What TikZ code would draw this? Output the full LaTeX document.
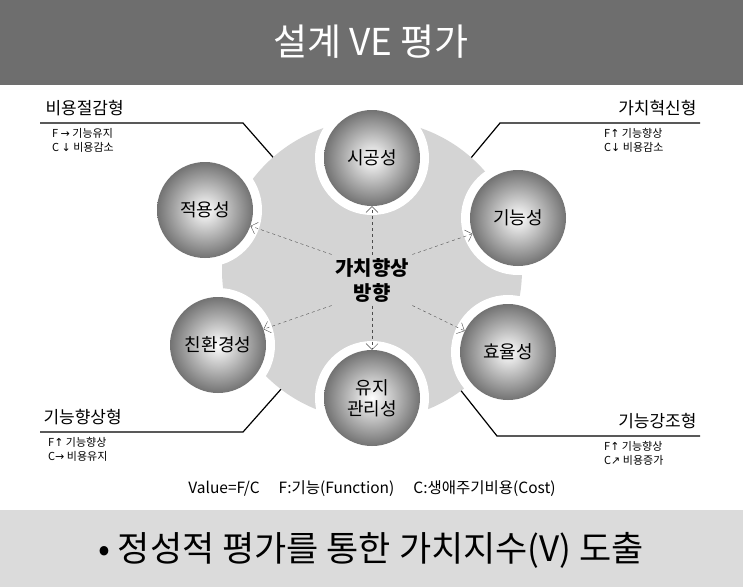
\documentclass[tikz,border=0pt]{standalone}
\usepackage{fontspec}
\setmainfont{Noto Sans CJK KR}
\newfontfamily\symfont{DejaVu Sans}
\usetikzlibrary{arrows.meta}

\tikzset{
  sphere/.style = {circle, minimum size=96pt, inner sep=0pt, inner color=white, outer color=black!55, font=\fontsize{18}{21}\selectfont},
  cutout/.style = {fill=white, draw=none},
  ray/.style = {dashed, black!70, -{Straight Barb[length=6pt]}},
  corner/.style = {black, line width=1.2pt},
  kind/.style = {font=\fontsize{17}{19}\selectfont},
  sub/.style = {font=\fontsize{11}{14}\selectfont, align=left, inner sep=0pt}
}

\begin{document}
\begin{tikzpicture}[x=1pt, y=-1pt]
\useasboundingbox (0,0) rectangle (743,587);
% title and bottom bars
\fill[black!57] (0,0) rectangle (743,85);
\node[white, font=\fontsize{37}{40}\selectfont] (title) at (371,42) {설계 VE 평가};
\fill[black!14] (0,510) rectangle (743,587);
\node[font=\fontsize{35}{40}\selectfont] (summary) at (371,550) {• 정성적 평가를 통한 가치지수(V) 도출};

% corner lines
\draw[corner] (40,123) -- (243,123) -- (300,188);
\draw[corner] (700,123) -- (500,123) -- (446,188);
\draw[corner] (40,432) -- (243,432) -- (298,370);
\draw[corner] (700,436) -- (497,436) -- (447,373);

% gear
\fill[black!17] (372,270) circle (150);
\foreach \p in {(372,158),(518,218),(508,352),(372,398),(218,345),(205,210)}
  \fill[cutout] \p circle (57);

% spheres
\node[sphere] (build) at (372,158) {시공성};
\node[sphere] (func) at (518,218) {기능성};
\node[sphere] (effi) at (508,352) {효율성};
\node[sphere, align=center] (maint) at (372,398) {유지\\관리성};
\node[sphere] (green) at (218,345) {친환경성};
\node[sphere] (apply) at (205,210) {적용성};

\node[font=\bfseries\fontsize{20}{25}\selectfont, align=center] (core) at (372,280) {가치향상\\방향};
\draw[ray] (core.north) -- (build);
\draw[ray] (core.north east) -- (func);
\draw[ray] (core.south east) -- (effi);
\draw[ray] (core.south) -- (maint);
\draw[ray] (core.south west) -- (green);
\draw[ray] (core.north west) -- (apply);

% corner labels
\node[kind, anchor=south west] (cut) at (42,119) {비용절감형};
\node[sub, anchor=north west] (cutsub) at (52,128) {F {\symfont →} 기능유지\\C {\symfont ↓} 비용감소};
\node[kind, anchor=south east] (innov) at (700,119) {가치혁신형};
\node[sub, anchor=north west] (innovsub) at (604,128) {F{\symfont ↑} 기능향상\\C{\symfont ↓} 비용감소};
\node[kind, anchor=south west] (raise) at (40,428) {기능향상형};
\node[sub, anchor=north west] (raisesub) at (48,437) {F{\symfont ↑} 기능향상\\C{\symfont →} 비용유지};
\node[kind, anchor=south east] (stress) at (700,432) {기능강조형};
\node[sub, anchor=north west] (stresssub) at (604,441) {F{\symfont ↑} 기능향상\\C{\symfont ↗} 비용증가};

\node[font=\fontsize{15.5}{18}\selectfont] (formula) at (372,489) {Value=F/C\quad\ F:기능(Function)\quad\ C:생애주기비용(Cost)};
\end{tikzpicture}
\end{document}
